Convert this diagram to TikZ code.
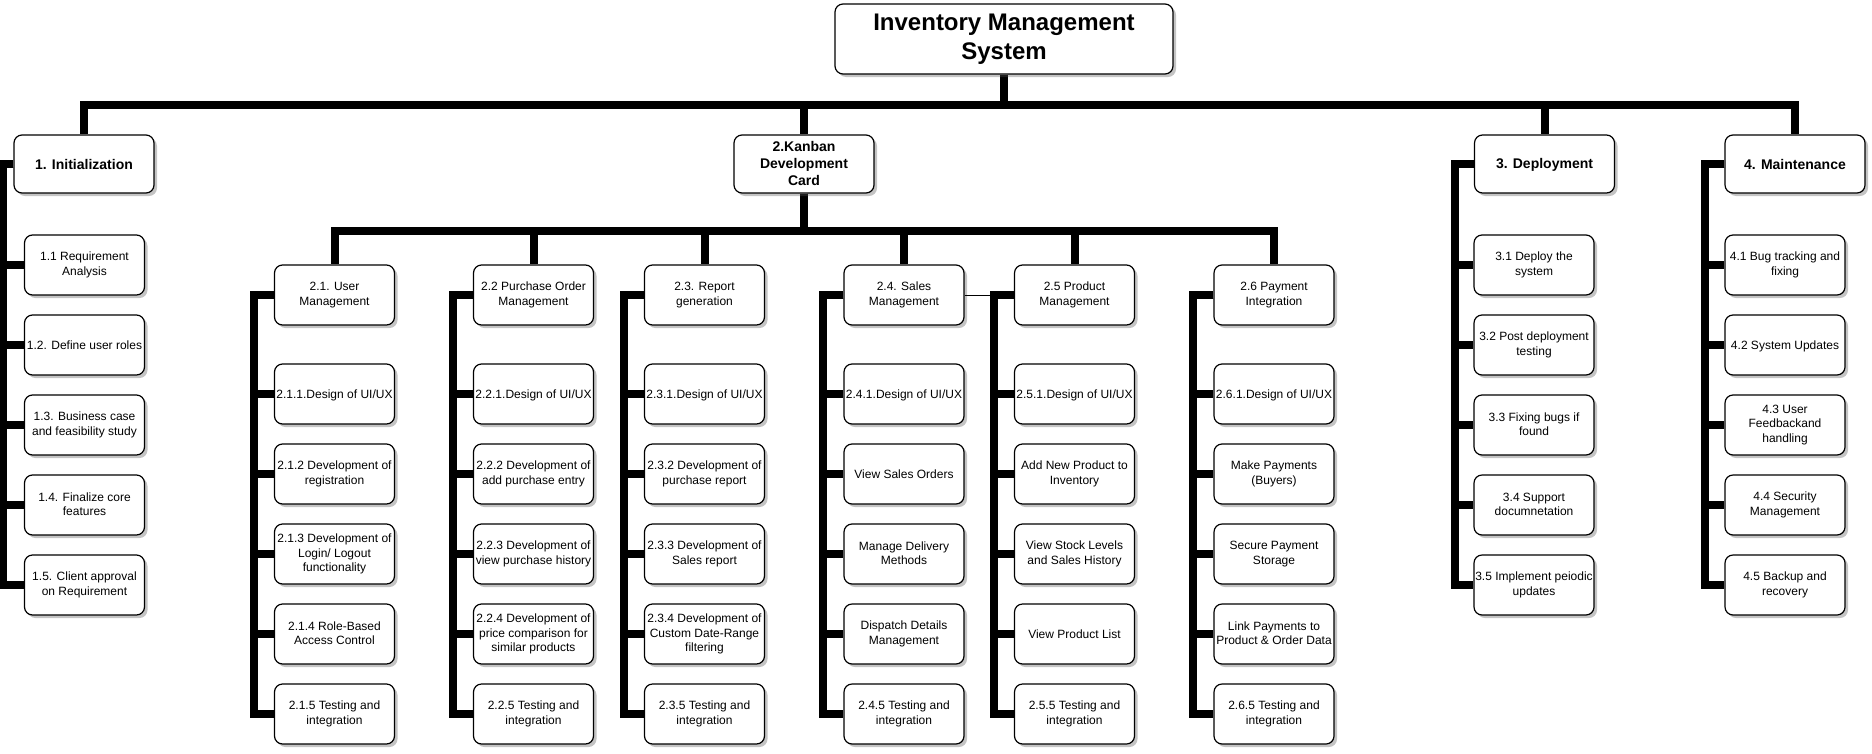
\documentclass[tikz,border=0pt]{standalone}
\usepackage{fontspec}
\setmainfont{Liberation Sans}
\usepackage{tikz}
\usetikzlibrary{shadows, backgrounds, calc}
\definecolor{wbsline}{HTML}{000000}
\definecolor{wbsshade}{HTML}{555555}
\newcommand{\wbsstrut}{\rule[-0.15em]{0pt}{1.055em}}
\tikzset{
  wbsbox/.style={draw=wbsline, line width=1.2pt, fill=white, rounded corners=8pt,
    align=center, inner sep=1pt,
    execute at begin node=\wbsstrut, execute at end node=\wbsstrut,
    drop shadow={shadow xshift=3pt, shadow yshift=-3pt, opacity=0.35, fill=wbsshade}},
  rootbox/.style={wbsbox, minimum width=338pt, minimum height=70pt,
    font=\fontsize{24}{28.5}\selectfont\bfseries},
  phasebox/.style={wbsbox, minimum width=140pt, minimum height=58pt,
    font=\fontsize{14}{17}\selectfont\bfseries},
  taskbox/.style={wbsbox, minimum width=120pt, minimum height=60pt,
    font=\fontsize{12}{14.5}\selectfont},
  tree/.style={wbsline, line width=8pt},
}
\newcommand{\wbscol}[6]{% parent, prefix, centre x, first centre y, stub, labels
  \foreach \lbl [count=\k] in {#6} {
    \node[taskbox] (#2-\k) at (#3, #4+80*\k-80) {\lbl};
    \begin{scope}[on background layer]
      \draw[tree] (#1.west) -- ++(-#5,0) |- (#2-\k.west);
    \end{scope}
  }
}

\begin{document}
\begin{tikzpicture}[x=1pt, y=-1pt]
  \useasboundingbox (0,0) rectangle (1872,753);

  \node[rootbox] (root) at (1004,39) {Inventory Management\\System};

  % phases
  \node[phasebox] (init)   at (84,164)     {1. Initialization};
  \node[phasebox] (kanban) at (804,164)    {2.Kanban\\Development\\Card};
  \node[phasebox] (deploy) at (1544.5,164) {3. Deployment};
  \node[phasebox] (maint)  at (1795,164)   {4. Maintenance};

  % kanban modules
  \node[taskbox] (um) at (334.5,295)  {2.1. User\\Management};
  \node[taskbox] (po) at (533.5,295)  {2.2 Purchase Order\\Management};
  \node[taskbox] (rg) at (704.5,295)  {2.3. Report\\generation};
  \node[taskbox] (sm) at (904,295)    {2.4. Sales\\Management};
  \node[taskbox] (pm) at (1074.5,295) {2.5 Product\\Management};
  \node[taskbox] (pi) at (1274,295)   {2.6 Payment\\Integration};

  \begin{scope}[on background layer]
    \foreach \ph in {init, kanban, deploy, maint}
      \draw[tree] (root.south) -- ++(0,30) -| (\ph.north);
    \foreach \md in {um, po, rg, sm, pm, pi}
      \draw[tree] (kanban.south) -- ++(0,37) -| (\md.north);
  \end{scope}

  % work packages
  \wbscol{init}{in}{84.5}{265}{10}{{1.1 Requirement\\Analysis}, {1.2. Define user roles},
    {1.3. Business case\\and feasibility study}, {1.4. Finalize core\\features},
    {1.5. Client approval\\on Requirement}}
  \wbscol{um}{um}{334.5}{394}{20}{{2.1.1.Design of UI/UX}, {2.1.2 Development of\\registration},
    {2.1.3 Development of\\Login/ Logout\\functionality}, {2.1.4 Role-Based\\Access Control},
    {2.1.5 Testing and\\integration}}
  \wbscol{po}{po}{533.5}{394}{20}{{2.2.1.Design of UI/UX}, {2.2.2 Development of\\add purchase entry},
    {2.2.3 Development of\\view purchase history},
    {2.2.4 Development of\\price comparison for\\similar products},
    {2.2.5 Testing and\\integration}}
  \wbscol{rg}{rg}{704.5}{394}{20}{{2.3.1.Design of UI/UX}, {2.3.2 Development of\\purchase report},
    {2.3.3 Development of\\Sales report}, {2.3.4 Development of\\Custom Date-Range\\filtering},
    {2.3.5 Testing and\\integration}}
  \wbscol{sm}{sm}{904}{394}{20}{{2.4.1.Design of UI/UX}, {View Sales Orders},
    {Manage Delivery\\Methods}, {Dispatch Details\\Management}, {2.4.5 Testing and\\integration}}
  \wbscol{pm}{pm}{1074.5}{394}{20}{{2.5.1.Design of UI/UX}, {Add New Product to\\Inventory},
    {View Stock Levels\\and Sales History}, {View Product List}, {2.5.5 Testing and\\integration}}
  \wbscol{pi}{pi}{1274}{394}{20}{{2.6.1.Design of UI/UX}, {Make Payments\\(Buyers)},
    {Secure Payment\\Storage}, {Link Payments to\\Product \& Order Data},
    {2.6.5 Testing and\\integration}}
  \wbscol{deploy}{dp}{1534}{265}{19}{{3.1 Deploy the\\system}, {3.2 Post deployment\\testing},
    {3.3 Fixing bugs if\\found}, {3.4 Support\\documnetation}, {3.5 Implement peiodic\\updates}}
  \wbscol{maint}{mt}{1785}{265}{19}{{4.1 Bug tracking and\\fixing}, {4.2 System Updates},
    {4.3 User\\Feedbackand\\handling}, {4.4 Security\\Management}, {4.5 Backup and\\recovery}}

  % stray link 2.4 -> 2.5
  \coordinate (pmbar) at ($(pm.west)+(-19,0)$);
  \draw[wbsline, line width=1pt] (sm.east) -- (pmbar);
\end{tikzpicture}
\end{document}
